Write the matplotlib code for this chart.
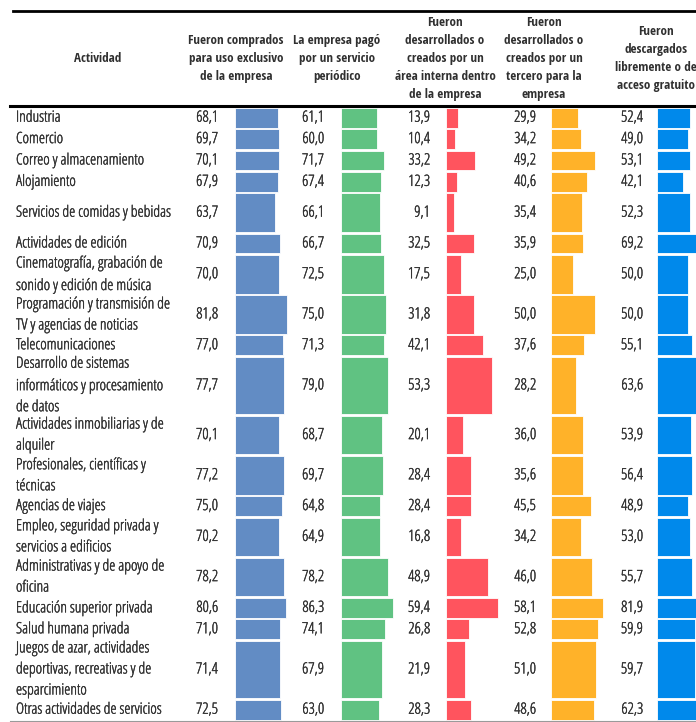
import matplotlib.pyplot as plt
from matplotlib import font_manager, patheffects
from matplotlib.font_manager import FontProperties

actividades = [
    "Industria",
    "Comercio",
    "Correo y almacenamiento",
    "Alojamiento",
    "Servicios de comidas y bebidas",
    "Actividades de edición",
    "Cinematografía, grabación de\nsonido y edición de música",
    "Programación y transmisión de\nTV y agencias de noticias",
    "Telecomunicaciones",
    "Desarrollo de sistemas\ninformáticos y procesamiento\nde datos",
    "Actividades inmobiliarias y de\nalquiler",
    "Profesionales, científicas y\ntécnicas",
    "Agencias de viajes",
    "Empleo, seguridad privada y\nservicios a edificios",
    "Administrativas y de apoyo de\noficina",
    "Educación superior privada",
    "Salud humana privada",
    "Juegos de azar, actividades\ndeportivas, recreativas y de\nesparcimiento",
    "Otras actividades de servicios",
]
# row height in text lines (the food row is a double row in the source)
lineas = [1, 1, 1, 1, 2, 1, 2, 2, 1, 3, 2, 2, 1, 2, 2, 1, 1, 3, 1]

encabezados = [
    "Fueron comprados\npara uso exclusivo\nde la empresa",
    "La empresa pagó\npor un servicio\nperiódico",
    "Fueron\ndesarrollados o\ncreados por un\nárea interna dentro\nde la empresa",
    "Fueron\ndesarrollados o\ncreados por un\ntercero para la\nempresa",
    "Fueron\ndescargados\nlibremente o de\nacceso gratuito",
]

comprados = [68.1, 69.7, 70.1, 67.9, 63.7, 70.9, 70.0, 81.8, 77.0, 77.7,
             70.1, 77.2, 75.0, 70.2, 78.2, 80.6, 71.0, 71.4, 72.5]
servicio = [61.1, 60.0, 71.7, 67.4, 66.1, 66.7, 72.5, 75.0, 71.3, 79.0,
            68.7, 69.7, 64.8, 64.9, 78.2, 86.3, 74.1, 67.9, 63.0]
interna = [13.9, 10.4, 33.2, 12.3, 9.1, 32.5, 17.5, 31.8, 42.1, 53.3,
           20.1, 28.4, 28.4, 16.8, 48.9, 59.4, 26.8, 21.9, 28.3]
tercero = [29.9, 34.2, 49.2, 40.6, 35.4, 35.9, 25.0, 50.0, 37.6, 28.2,
           36.0, 35.6, 45.5, 34.2, 46.0, 58.1, 52.8, 51.0, 48.6]
gratuito = [52.4, 49.0, 53.1, 42.1, 52.3, 69.2, 50.0, 50.0, 55.1, 63.6,
            53.9, 56.4, 48.9, 53.0, 55.7, 81.9, 59.9, 59.7, 62.3]

columnas = [comprados, servicio, interna, tercero, gratuito]
colores = ["#628CC4", "#60C282", "#FF545E", "#FFB229", "#0089EB"]


# look for a narrow face, the source uses a semi condensed sans
def buscar_fuente(peso):
    orden_fam = ['Noto Sans', 'Open Sans', 'DejaVu Sans', 'Liberation Sans Narrow',
                 'Roboto', 'Lato', 'Inter']
    mejores = []
    for f in font_manager.fontManager.ttflist:
        if f.style != 'normal':
            continue
        nombre_f = f.fname.split('/')[-1].lower()
        ancho = f.stretch if isinstance(f.stretch, str) else 'normal'
        narrow = ('narrow' in nombre_f) or ('cond' in nombre_f) or ('Narrow' in f.name)
        if ancho == 'normal' and not narrow:
            continue
        if 'semi' in nombre_f or 'semicond' in ancho:
            rango = 0
        elif 'extra' in nombre_f or 'ultra' in nombre_f:
            rango = 2
        else:
            rango = 1
        w = f.weight if isinstance(f.weight, int) else font_manager.weight_dict.get(f.weight, 400)
        fam = next((k for k, n in enumerate(orden_fam) if f.name.startswith(n)), 99)
        mejores.append((fam, rango, abs(w - peso), f.fname))
    if not mejores:
        return FontProperties(family=['Roboto', 'DejaVu Sans'],
                              weight='bold' if peso > 500 else 'normal')
    mejores.sort()
    return FontProperties(fname=mejores[0][3])


fp_reg = buscar_fuente(400)
fp_bold = buscar_fuente(700)

fig = plt.figure(figsize=(6.96, 7.22), dpi=100)
ax = fig.add_axes([0, 0, 1, 1])
ax.set_xlim(0, 696)
ax.set_ylim(722, 0)
ax.axis('off')
rend = fig.canvas.get_renderer()


def tam_para(texto, fp, ancho_px, tope):
    t = ax.text(0, 0, texto, fontproperties=fp, fontsize=10)
    w = t.get_window_extent(rend).width
    t.remove()
    return min(tope, 10 * ancho_px / w)


fs = tam_para("Servicios de comidas y bebidas", fp_reg, 159, 11.2)
fsb = tam_para("área interna dentro", fp_bold, 100, 11)

txt = '#303030'
# the light face is a bit thin next to the source, thicken it a touch
grueso = [patheffects.withStroke(linewidth=0.25, foreground=txt)]

# column geometry (pixel units of the canvas)
valor_x = [218, 324, 430, 536, 643]
barra_x = [235, 341, 446, 551, 657]
ancho_max = 51.5
head_x = [236, 337, 445, 544, 656]

# header
ax.plot([13, 696], [11, 11], color='black', lw=2)
ax.text(98, 58, "Actividad", ha='center', va='center', fontproperties=fp_bold,
        fontsize=fsb, color=txt)
for hx, h in zip(head_x, encabezados):
    ax.text(hx, 58.5, h, ha='center', va='center', fontproperties=fp_bold,
            fontsize=fsb, color=txt, linespacing=1.5)
ax.plot([10, 696], [105.5, 105.5], color='black', lw=2.2)

# rows
y = 107
for i, (nombre, n) in enumerate(zip(actividades, lineas)):
    h = 2.6 + 18.8 * n
    yc = y + h / 2
    ax.text(16, yc, nombre, ha='left', va='center', fontproperties=fp_reg,
            fontsize=fs, color=txt, linespacing=1.42, path_effects=grueso)
    for c, vals in enumerate(columnas):
        v = vals[i]
        ax.text(valor_x[c], yc, f"{v:.1f}".replace('.', ','), ha='right',
                va='center', fontproperties=fp_reg, fontsize=fs, color=txt,
                path_effects=grueso)
        ax.barh(yc, v / max(vals) * ancho_max, height=h - 1.6,
                left=barra_x[c], color=colores[c], edgecolor='white',
                linewidth=0.6)
    y += h

ax.plot([10, 696], [y + 0.5, y + 0.5], color='#9a9a9a', lw=0.8)

fig.savefig('out.png', dpi=100)
